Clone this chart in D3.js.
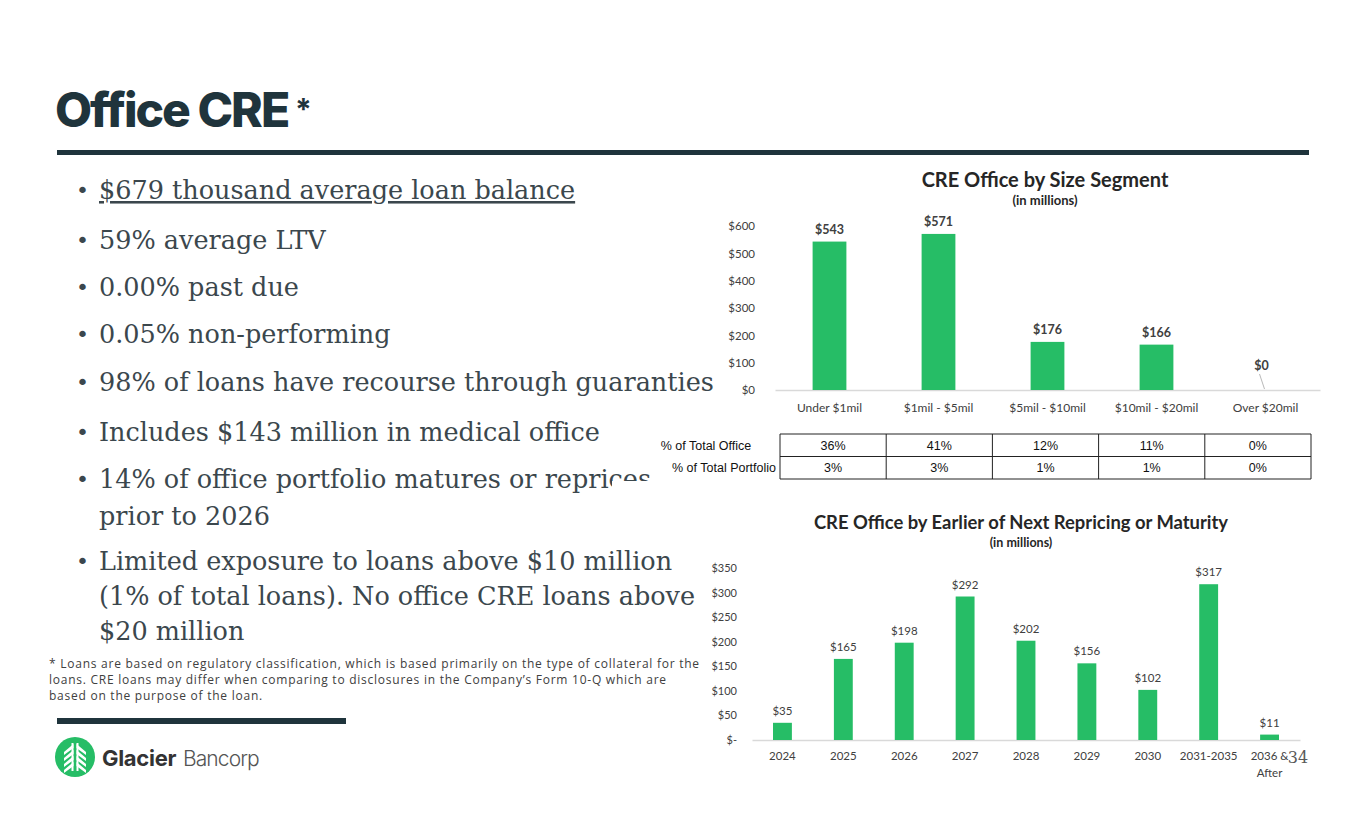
<!DOCTYPE html>
<html>
<head>
<meta charset="utf-8">
<script src="https://d3js.org/d3.v7.min.js"></script>
<style>
  body { margin: 0; background: #fff; }
  svg text { font-family: Lato, "Open Sans", sans-serif; }
  .axis .domain { stroke: #d9d9d9; stroke-width: 1.3px; }
  .axis text { fill: #404040; font-size: 11.5px; font-family: Lato, sans-serif; }
</style>
</head>
<body>
<script>
// ---- data ----
var sizeCategories = ["Under $1mil", "$1mil - $5mil", "$5mil - $10mil", "$10mil - $20mil", "Over $20mil"];
var sizeValues = [543, 571, 176, 166, 0];
var sizeTicks = [0, 100, 200, 300, 400, 500, 600];

var tableRows = ["% of Total Office", "% of Total Portfolio"];
var pctOffice = ["36%", "41%", "12%", "11%", "0%"];
var pctPortfolio = ["3%", "3%", "1%", "1%", "0%"];

var maturityCategories = ["2024", "2025", "2026", "2027", "2028", "2029", "2030", "2031-2035", "2036 & After"];
var maturityValues = [35, 165, 198, 292, 202, 156, 102, 317, 11];
var maturityTicks = [0, 50, 100, 150, 200, 250, 300, 350];

var bullets = [
  ["$679 thousand average loan balance"],
  ["59% average LTV"],
  ["0.00% past due"],
  ["0.05% non-performing"],
  ["98% of loans have recourse through guaranties"],
  ["Includes $143 million in medical office"],
  ["14% of office portfolio matures or reprices", "prior to 2026"],
  ["Limited exposure to loans above $10 million", "(1% of total loans). No office CRE loans above", "$20 million"]
];
var footnote = [
  "* Loans are based on regulatory classification, which is based primarily on the type of collateral for the",
  "loans. CRE loans may differ when comparing to disclosures in the Company\u2019s Form 10-Q which are",
  "based on the purpose of the loan."
];

var dark = "#1f343c", green = "#26bd66", grey = "#404040";

var svg = d3.select("body").append("svg")
    .attr("width", 1365)
    .attr("height", 829);

// ---- header ----
svg.append("text")
    .attr("x", 55).attr("y", 127)
    .style("font-family", "Inter").style("font-weight", 800)
    .style("font-size", "48px").style("letter-spacing", "-2px")
    .attr("fill", dark)
    .text("Office CRE");
svg.append("text")
    .attr("x", 295).attr("y", 120)
    .style("font-family", "Inter").style("font-weight", 700).style("font-size", "30px")
    .attr("fill", dark)
    .text("*");
svg.append("rect").attr("x", 57).attr("y", 150).attr("width", 1252).attr("height", 5).attr("fill", dark);

// ---- bullet list ----
var bulletTop = [199, 249, 296, 343, 391, 441, 488, 570];
var lineGap = [0, 0, 0, 0, 0, 0, 37, 35];
var bl = svg.append("g").attr("fill", "#3b474d");
bullets.forEach(function (lines, i) {
  bl.append("text").attr("x", 76).attr("y", bulletTop[i] - 1)
      .style("font-family", "'DejaVu Sans'").style("font-size", "22px").text("\u2022");
  lines.forEach(function (t, j) {
    var tx = bl.append("text")
        .attr("x", 99).attr("y", bulletTop[i] + j * lineGap[i])
        .style("font-family", "'DejaVu Serif', serif")
        .style("font-size", "25.5px")
        .text(t);
    if (i === 0) tx.style("text-decoration", "underline");
  });
});

// white edge of the table object, it clips the bullet text a little
svg.append("rect").attr("x", 612).attr("y", 481).attr("width", 168).attr("height", 12).attr("fill", "#fff");

// ---- footnote, rule, logo ----
svg.append("g").selectAll("text").data(footnote).enter().append("text")
    .attr("x", 49).attr("y", function (d, i) { return 668 + i * 16; })
    .style("font-family", "'Open Sans', sans-serif").style("font-size", "12px")
    .style("letter-spacing", "0.75px")
    .attr("fill", grey)
    .text(String);
svg.append("rect").attr("x", 57).attr("y", 718).attr("width", 289).attr("height", 6).attr("fill", dark);

var logo = svg.append("g").attr("transform", "translate(75,757)");
logo.append("circle").attr("r", 20).attr("fill", green);
[-1, 1].forEach(function (s) {
  for (var k = 0; k < 4; k++) {
    var y0 = -13 + k * 6;
    logo.append("path")
        .attr("d", "M" + (s * 1.5) + "," + y0 + " L" + (s * 11) + "," + (y0 + 8) +
              " L" + (s * 11) + "," + (y0 + 11) + " L" + (s * 1.5) + "," + (y0 + 4) + "Z")
        .attr("fill", "#fff");
  }
  logo.append("rect").attr("x", s > 0 ? 1.5 : -3.5).attr("y", -14).attr("width", 2).attr("height", 28).attr("fill", "#fff");
});
svg.append("text").attr("x", 102).attr("y", 766)
    .style("font-family", "Inter").style("font-weight", 700).style("font-size", "22px")
    .style("letter-spacing", "-0.3px")
    .attr("fill", "#333").text("Glacier");
svg.append("text").attr("x", 183).attr("y", 766)
    .style("font-family", "Inter").style("font-weight", 300).style("font-size", "21px")
    .style("letter-spacing", "-0.9px")
    .attr("fill", "#555").text("Bancorp");

svg.append("text").attr("x", 1298).attr("y", 763).attr("text-anchor", "middle")
    .style("font-family", "'DejaVu Serif', serif").style("font-size", "16px")
    .attr("fill", "#595959").text("34");

// ---- chart 1: size segment ----
var x1 = d3.scaleBand().domain(sizeCategories).range([775, 1320]).paddingInner(0.69).paddingOuter(0.345);
var y1 = d3.scaleLinear().domain([0, 600]).range([390, 226]);

svg.append("text").attr("x", 1045).attr("y", 187).attr("text-anchor", "middle")
    .style("font-weight", 700).style("font-size", "20px").attr("fill", "#262626")
    .text("CRE Office by Size Segment");
svg.append("text").attr("x", 1045).attr("y", 205).attr("text-anchor", "middle")
    .style("font-weight", 700).style("font-size", "13px").attr("fill", "#262626")
    .text("(in millions)");

svg.append("g").attr("class", "axis").attr("transform", "translate(775,0)")
    .call(d3.axisLeft(y1).tickValues(sizeTicks).tickSize(0).tickPadding(20)
          .tickFormat(function (d) { return "$" + d; }))
    .call(function (g) { g.select(".domain").remove(); });

svg.append("g").attr("class", "axis").attr("transform", "translate(0,390)")
    .call(d3.axisBottom(x1).tickSize(0).tickSizeOuter(0).tickPadding(13))
    .selectAll(".tick text").style("font-size", "12px");

svg.append("g").selectAll("rect").data(sizeValues).enter().append("rect")
    .attr("x", function (d, i) { return x1(sizeCategories[i]); })
    .attr("y", function (d) { return y1(d); })
    .attr("width", x1.bandwidth())
    .attr("height", function (d) { return y1(0) - y1(d); })
    .attr("fill", green);

svg.append("g").selectAll("text").data(sizeValues).enter().append("text")
    .attr("x", function (d, i) { return x1(sizeCategories[i]) + x1.bandwidth() / 2 + (d === 0 ? -4 : 0); })
    .attr("y", function (d) { return y1(d) - (d === 0 ? 20 : 8); })
    .attr("text-anchor", "middle")
    .style("font-weight", 700).style("font-size", "12.5px").attr("fill", grey)
    .text(function (d) { return "$" + d; });

// leader line for the zero bar label
sizeValues.forEach(function (d, i) {
  if (d !== 0) return;
  var cx = x1(sizeCategories[i]) + x1.bandwidth() / 2;
  svg.append("line")
      .attr("x1", cx - 6).attr("y1", y1(0) - 16)
      .attr("x2", cx - 1).attr("y2", y1(0) - 1)
      .attr("stroke", "#a6a6a6").attr("stroke-width", 0.8);
});

// ---- percentage table ----
var xt = d3.scaleBand().domain(sizeCategories).range([780, 1311]);
var rowY = d3.scaleBand().domain(tableRows).range([434, 479]);
var tableData = [pctOffice, pctPortfolio];
var tbl = svg.append("g");

tableRows.forEach(function (r, ri) {
  tbl.selectAll(".c" + ri).data(tableData[ri]).enter().append("text")
      .attr("x", function (d, i) { return xt(sizeCategories[i]) + xt.bandwidth() / 2; })
      .attr("y", rowY(r) + rowY.bandwidth() / 2 + 4.5)
      .attr("text-anchor", "middle").attr("fill", "#111")
      .style("font-family", "'Liberation Sans', Arial, sans-serif").style("font-size", "12.5px")
      .text(String);
  tbl.append("text")
      .attr("x", ri === 0 ? 706 : 776)
      .attr("y", rowY(r) + rowY.bandwidth() / 2 + 4.5)
      .attr("text-anchor", ri === 0 ? "middle" : "end").attr("fill", "#111")
      .style("font-family", "'Liberation Sans', Arial, sans-serif").style("font-size", "12.5px")
      .text(r);
});
var hLines = [434].concat(tableRows.map(function (r) { return rowY(r) + rowY.bandwidth(); }));
tbl.selectAll(".h").data(hLines).enter().append("line")
    .attr("x1", 780).attr("x2", 1311)
    .attr("y1", function (d) { return d; }).attr("y2", function (d) { return d; })
    .attr("stroke", "#222").attr("stroke-width", 1);
var vLines = sizeCategories.map(function (c) { return xt(c); }).concat([1311]);
tbl.selectAll(".v").data(vLines).enter().append("line")
    .attr("x1", function (d) { return d; }).attr("x2", function (d) { return d; })
    .attr("y1", 434).attr("y2", 479)
    .attr("stroke", "#222").attr("stroke-width", 1);

// ---- chart 2: repricing / maturity ----
var x2 = d3.scaleBand().domain(maturityCategories).range([752, 1300]).paddingInner(0.69).paddingOuter(0.345);
var y2 = d3.scaleLinear().domain([0, 350]).range([740, 568]);

svg.append("text").attr("x", 1021).attr("y", 529).attr("text-anchor", "middle")
    .style("font-weight", 700).style("font-size", "18.4px").attr("fill", "#262626")
    .text("CRE Office by Earlier of Next Repricing or Maturity");
svg.append("text").attr("x", 1021).attr("y", 547).attr("text-anchor", "middle")
    .style("font-weight", 700).style("font-size", "12.5px").attr("fill", "#262626")
    .text("(in millions)");

svg.append("g").attr("class", "axis").attr("transform", "translate(752,0)")
    .call(d3.axisLeft(y2).tickValues(maturityTicks).tickSize(0).tickPadding(15)
          .tickFormat(function (d) { return d === 0 ? "$-" : "$" + d; }))
    .call(function (g) { g.select(".domain").remove(); })
    .selectAll(".tick text").style("font-size", "11px");

var xAxis2 = svg.append("g").attr("class", "axis").attr("transform", "translate(0,740)")
    .call(d3.axisBottom(x2).tickSize(0).tickSizeOuter(0).tickPadding(12));
xAxis2.selectAll(".tick text").each(function (d) {
  var cut = d.indexOf("& ");
  if (cut < 0) return;
  var parts = [d.slice(0, cut + 1), d.slice(cut + 2)];
  var t = d3.select(this).text(null);
  parts.forEach(function (p, j) {
    t.append("tspan").attr("x", 0).attr("dy", j === 0 ? "0.71em" : "1.45em").text(p);
  });
});

svg.append("g").selectAll("rect").data(maturityValues).enter().append("rect")
    .attr("x", function (d, i) { return x2(maturityCategories[i]); })
    .attr("y", function (d) { return y2(d); })
    .attr("width", x2.bandwidth())
    .attr("height", function (d) { return y2(0) - y2(d); })
    .attr("fill", green);

svg.append("g").selectAll("text").data(maturityValues).enter().append("text")
    .attr("x", function (d, i) { return x2(maturityCategories[i]) + x2.bandwidth() / 2; })
    .attr("y", function (d) { return y2(d) - 8; })
    .attr("text-anchor", "middle")
    .style("font-size", "11.5px").attr("fill", grey)
    .text(function (d) { return "$" + d; });
</script>
</body>
</html>
